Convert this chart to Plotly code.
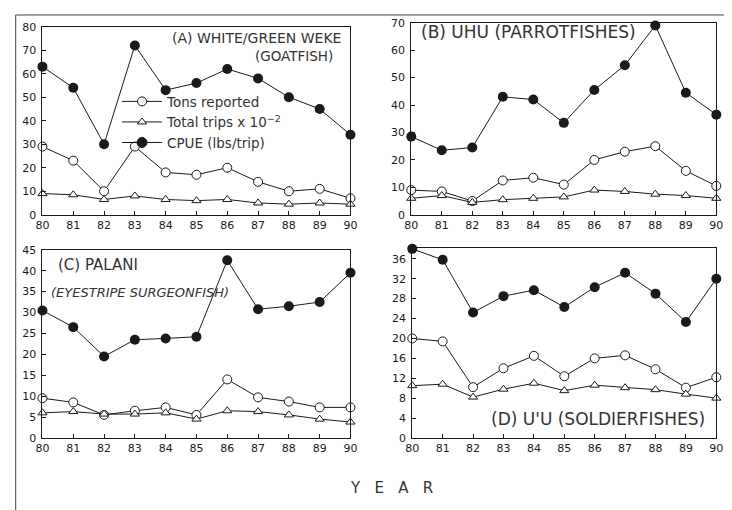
import plotly.graph_objects as go

years = [80, 81, 82, 83, 84, 85, 86, 87, 88, 89, 90]

a_cpue = [63, 54, 30, 72, 53, 56, 62, 58, 50, 45, 34]
a_tons = [29, 23, 10, 29, 18, 17, 20, 14, 10, 11, 7]
a_trips = [9, 8.5, 6.5, 8, 6.5, 6, 6.5, 5, 4.5, 5, 4.5]

b_cpue = [28.5, 23.5, 24.5, 43, 42, 33.5, 45.5, 54.5, 69, 44.5, 36.5]
b_tons = [9, 8.5, 5, 12.5, 13.5, 11, 20, 23, 25, 16, 10.5]
b_trips = [6, 7, 4.5, 5.5, 6, 6.5, 9, 8.5, 7.5, 7, 6]

c_cpue = [30.5, 26.5, 19.5, 23.5, 23.8, 24.2, 42.5, 30.8, 31.5, 32.5, 39.5]
c_tons = [9.5, 8.5, 5.5, 6.5, 7.3, 5.5, 14, 9.7, 8.7, 7.3, 7.3]
c_trips = [6, 6.3, 5.7, 5.7, 6, 4.5, 6.5, 6.3, 5.5, 4.5, 3.8]

d_cpue = [38, 35.8, 25.2, 28.5, 29.7, 26.3, 30.3, 33.2, 29, 23.3, 32]
d_tons = [20, 19.4, 10.2, 14, 16.5, 12.4, 16, 16.6, 13.8, 10.1, 12.2]
d_trips = [10.5, 10.8, 8.2, 9.8, 11, 9.5, 10.6, 10.1, 9.7, 8.8, 8]

y_ticks_a = [0, 10, 20, 30, 40, 50, 60, 70, 80]
y_ticks_b = [0, 10, 20, 30, 40, 50, 60, 70]
y_ticks_c = [0, 5, 10, 15, 20, 25, 30, 35, 40, 45]
y_ticks_d = [0, 4, 8, 12, 16, 20, 24, 28, 32, 36]

W, H = 732, 510
OFF = 8  # page body margin
INK = "#1a1a1a"
TXT = "#333333"
FONT = "DejaVu Sans"

fig = go.Figure()

panels = [
    ("x", "y", a_tons, a_trips, a_cpue),
    ("x2", "y2", b_tons, b_trips, b_cpue),
    ("x3", "y3", c_tons, c_trips, c_cpue),
    ("x4", "y4", d_tons, d_trips, d_cpue),
]

for xa, ya, tons, trips, cpue in panels:
    fig.add_trace(go.Scatter(
        x=years, y=cpue, xaxis=xa, yaxis=ya, mode="lines+markers",
        name="CPUE (lbs/trip)", showlegend=False,
        line=dict(color=INK, width=1),
        marker=dict(symbol="circle", size=10, color=INK),
        cliponaxis=False))
    fig.add_trace(go.Scatter(
        x=years, y=tons, xaxis=xa, yaxis=ya, mode="lines+markers",
        name="Tons reported", showlegend=False,
        line=dict(color=INK, width=1),
        marker=dict(symbol="circle", size=9, color="white",
                    line=dict(color=INK, width=1)),
        cliponaxis=False))
    fig.add_trace(go.Scatter(
        x=years, y=trips, xaxis=xa, yaxis=ya, mode="lines+markers",
        name="Total trips x 10<sup>−2</sup>", showlegend=False,
        line=dict(color=INK, width=1),
        marker=dict(symbol="triangle-up", size=8, color="white",
                    line=dict(color=INK, width=1)),
        cliponaxis=False))

# legend entries (shown in panel A)
for name, sym, col, rank, size in [
    ("Tons reported", "circle", "white", 1, 9),
    ("Total trips x 10<sup>−2</sup>", "triangle-up", "white", 2, 8),
    ("CPUE (lbs/trip)", "circle", INK, 3, 10),
]:
    fig.add_trace(go.Scatter(
        x=[None], y=[None], mode="lines+markers", name=name, legendrank=rank,
        line=dict(color=INK, width=1),
        marker=dict(symbol=sym, size=size, color=col, line=dict(color=INK, width=1))))


def px_x(v):
    return (v - OFF) / W


def px_y(v):
    return 1 - (v - OFF) / H


doms = {
    "A": ([px_x(36), px_x(350)], [px_y(214), px_y(21)]),
    "B": ([px_x(412), px_x(723)], [px_y(214), px_y(17)]),
    "C": ([px_x(36), px_x(350)], [px_y(443), px_y(250)]),
    "D": ([px_x(413), px_x(723)], [px_y(443), px_y(248)]),
}


def xax(dom, anchor):
    return dict(domain=dom, anchor=anchor, range=[80, 90], tickvals=years,
                ticktext=[str(y) for y in years], showgrid=False, zeroline=False,
                showline=True, linecolor=INK, linewidth=1, mirror=True,
                ticks="inside", ticklen=4, tickcolor=INK,
                tickfont=dict(family=FONT, size=11, color=INK))


def yax(dom, anchor, rng, tv):
    return dict(domain=dom, anchor=anchor, range=rng, tickvals=tv,
                showgrid=False, zeroline=False, showline=True, linecolor=INK,
                linewidth=1, mirror=True, ticks="inside", ticklen=4,
                ticklabelstandoff=3,
                tickcolor=INK, tickfont=dict(family=FONT, size=11, color=INK))


fig.update_layout(
    width=W, height=H, margin=dict(l=0, r=0, t=0, b=0),
    paper_bgcolor="white", plot_bgcolor="white",
    font=dict(family=FONT, color=INK),
    xaxis=xax(doms["A"][0], "y"), yaxis=yax(doms["A"][1], "x", [0, 80], y_ticks_a),
    xaxis2=xax(doms["B"][0], "y2"), yaxis2=yax(doms["B"][1], "x2", [0, 70], y_ticks_b),
    xaxis3=xax(doms["C"][0], "y3"), yaxis3=yax(doms["C"][1], "x3", [0, 45], y_ticks_c),
    xaxis4=xax(doms["D"][0], "y4"), yaxis4=yax(doms["D"][1], "x4", [0, 38.2], y_ticks_d),
    legend=dict(x=px_x(112), y=px_y(82), xanchor="left", yanchor="top",
                bgcolor="rgba(0,0,0,0)", itemwidth=40, tracegroupgap=0,
                font=dict(family=FONT, size=13.5, color=TXT)),
    showlegend=True,
)

annos = [
    dict(text="(A) WHITE/GREEN WEKE", x=342, y=33, xanchor="right", size=14),
    dict(text="(GOATFISH)", x=334, y=51, xanchor="right", size=13.5),
    dict(text="(B) UHU (PARROTFISHES)", x=420, y=26, xanchor="left", size=17),
    dict(text="(C) PALANI", x=50, y=266, xanchor="left", size=15),
    dict(text="<i>(EYESTRIPE SURGEONFISH)</i>", x=43, y=294, xanchor="left", size=13),
    dict(text="(D) U'U (SOLDIERFISHES)", x=714, y=424, xanchor="right", size=17),
    dict(text="Y   E   A   R", x=392, y=494, xanchor="center", size=15),
]
for a in annos:
    fig.add_annotation(text=a["text"], x=px_x(a["x"]), y=px_y(a["y"]), xref="paper",
                       yref="paper", xanchor=a["xanchor"], yanchor="middle",
                       showarrow=False,
                       font=dict(family=FONT, size=a["size"], color=TXT))

# outer frame of the figure
fig.add_shape(type="line", xref="paper", yref="paper", x0=0.001, x1=0.001,
              y0=0, y1=px_y(9), line=dict(color="#444", width=1))
fig.add_shape(type="line", xref="paper", yref="paper", x0=0.001, x1=1,
              y0=px_y(9), y1=px_y(9), line=dict(color="#444", width=1))

fig.write_html("out.html")
